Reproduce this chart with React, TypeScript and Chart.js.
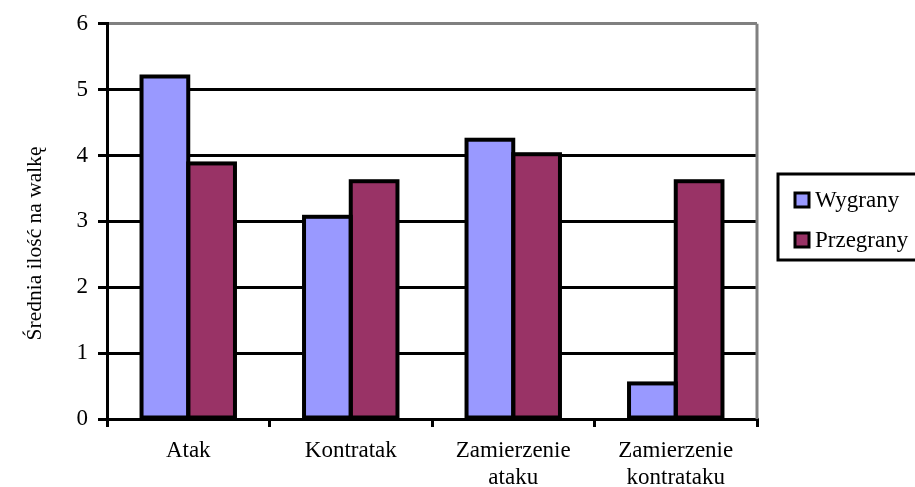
import React, { useEffect, useRef } from "react";
import { Chart, registerables } from "chart.js";

Chart.register(...registerables);

const categories: (string | string[])[] = [
  "Atak",
  "Kontratak",
  ["Zamierzenie", "ataku"],
  ["Zamierzenie", "kontrataku"],
];
const wygrany = [5.2, 3.07, 4.24, 0.54];
const przegrany = [3.88, 3.61, 4.02, 3.61];
const seriesNames = ["Wygrany", "Przegrany"];
const seriesColors = ["#9999FF", "#993366"];
const yTitle = "Średnia ilość na walkę";

const FONT = '"Liberation Serif", "Times New Roman", serif';

const frameAndLegend = {
  id: "frameAndLegend",
  beforeDatasetsDraw(chart: any) {
    const { ctx, chartArea } = chart;
    ctx.save();
    ctx.strokeStyle = "#808080";
    ctx.lineWidth = 3;
    ctx.beginPath();
    ctx.moveTo(chartArea.right, chartArea.top);
    ctx.lineTo(chartArea.right, chartArea.bottom);
    ctx.stroke();
    ctx.restore();
  },
  afterDatasetsDraw(chart: any) {
    const { ctx } = chart;
    ctx.save();
    ctx.strokeStyle = "#000";
    ctx.lineWidth = 4;
    ctx.lineJoin = "miter";
    chart.data.datasets.forEach((_: any, di: number) => {
      const meta = chart.getDatasetMeta(di);
      meta.data.forEach((bar: any) => {
        const { x, y, base, width } = bar.getProps(["x", "y", "base", "width"], true);
        ctx.strokeRect(x - width / 2, y, width, base - y);
      });
    });
    ctx.restore();
  },
  afterDraw(chart: any) {
    const { ctx, chartArea } = chart;
    ctx.save();
    // y axis title
    ctx.save();
    ctx.translate(35, (chartArea.top + chartArea.bottom) / 2 + 22);
    ctx.rotate(-Math.PI / 2);
    ctx.fillStyle = "#000";
    ctx.font = `21.5px ${FONT}`;
    ctx.textAlign = "center";
    ctx.textBaseline = "middle";
    ctx.fillText(yTitle, 0, 0);
    ctx.restore();
    // legend
    ctx.strokeStyle = "#000";
    ctx.lineWidth = 3;
    ctx.strokeRect(778, 174, 145, 86);
    const items = chart.data.datasets;
    items.forEach((ds: any, i: number) => {
      const cy = 200 + i * 40;
      ctx.fillStyle = ds.backgroundColor;
      ctx.fillRect(795, cy - 7, 14, 14);
      ctx.lineWidth = 3;
      ctx.strokeStyle = "#000";
      ctx.strokeRect(795, cy - 7, 14, 14);
      ctx.fillStyle = "#000";
      ctx.font = `23px ${FONT}`;
      ctx.textBaseline = "middle";
      ctx.textAlign = "left";
      ctx.fillText(ds.label, 815, cy + 1);
    });
    ctx.restore();
  },
};

export default function App() {
  const ref = useRef<HTMLCanvasElement | null>(null);
  useEffect(() => {
    if (!ref.current) return;
    const chart = new Chart(ref.current, {
      type: "bar",
      data: {
        labels: categories,
        datasets: [
          {
            label: seriesNames[0],
            data: wygrany,
            backgroundColor: seriesColors[0],
            borderWidth: 0,
            barPercentage: 1,
            categoryPercentage: 0.575,
          },
          {
            label: seriesNames[1],
            data: przegrany,
            backgroundColor: seriesColors[1],
            borderWidth: 0,
            barPercentage: 1,
            categoryPercentage: 0.575,
          },
        ],
      },
      options: {
        animation: false,
        responsive: false,
        maintainAspectRatio: false,
        layout: { padding: { left: 0, top: 22, right: 158, bottom: 0 } },
        plugins: {
          legend: { display: false },
          tooltip: { enabled: false },
        },
        scales: {
          x: {
            grid: {
              offset: true,
              drawOnChartArea: false,
              color: "#000",
              lineWidth: 3,
              tickLength: 8,
            },
            border: { color: "#000", width: 3 },
            ticks: {
              color: "#000",
              font: { family: FONT, size: 23, lineHeight: 1.2 },
              padding: 10,
              maxRotation: 0,
              autoSkip: false,
            },
            afterFit: (s: any) => {
              s.height = 68;
            },
          },
          y: {
            min: 0,
            max: 6,
            ticks: {
              stepSize: 1,
              color: "#000",
              font: { family: FONT, size: 23 },
              padding: 10,
            },
            grid: {
              color: (c: any) => (c.tick && c.tick.value === 6 ? "#808080" : "#000"),
              tickColor: "#000",
              lineWidth: 3,
              tickLength: 9,
            },
            border: { color: "#000", width: 3 },
            afterFit: (s: any) => {
              s.width = 107;
            },
          },
        },
      },
      plugins: [frameAndLegend],
    });
    return () => chart.destroy();
  }, []);
  return (
    <div style={{ position: "fixed", left: 0, top: 0, width: 915, height: 487, background: "#fff" }}>
      <canvas ref={ref} width={915} height={487} style={{ width: 915, height: 487 }} />
    </div>
  );
}
